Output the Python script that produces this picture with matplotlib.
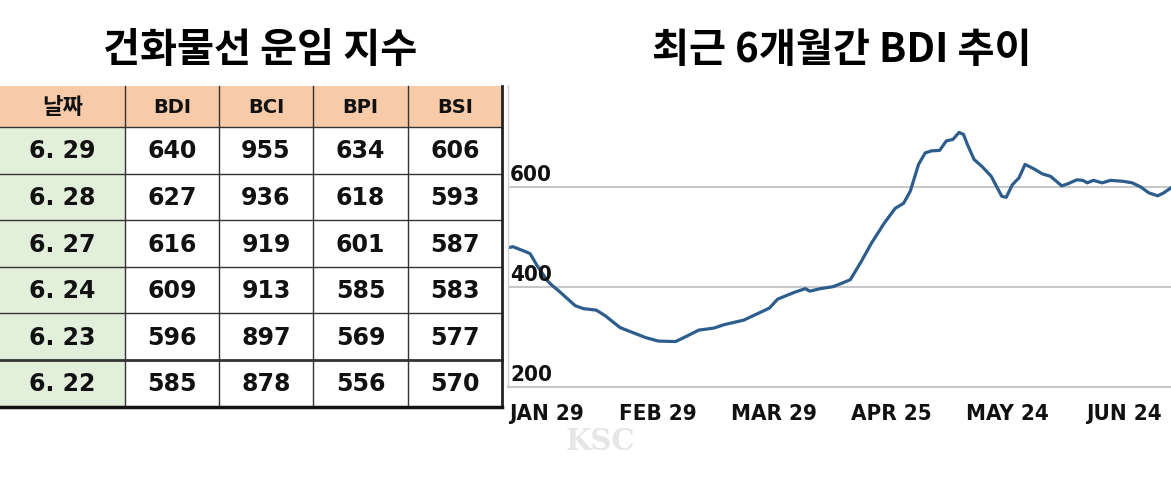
import matplotlib.pyplot as plt
from matplotlib.patches import Rectangle

# table data
headers = ['날짜', 'BDI', 'BCI', 'BPI', 'BSI']
dates = ['6. 29', '6. 28', '6. 27', '6. 24', '6. 23', '6. 22']
bdi = [640, 627, 616, 609, 596, 585]
bci = [955, 936, 919, 913, 897, 878]
bpi = [634, 618, 601, 585, 569, 556]
bsi = [606, 593, 587, 583, 577, 570]

# BDI trend (x = trading days from start)
day = [0, 0.9, 3.2, 4.0, 5.2, 7.1, 7.8, 9.4, 12.1, 13.6, 15.9, 17.5, 20.2,
       22.5, 24.8, 27.1, 30.2, 31.7, 34.4, 37.1, 39.0, 42.5, 44.8, 47.1,
       48.6, 51.7, 53.6, 54.4, 56.3, 58.6, 60.2, 61.7, 63.6, 65.5, 67.8,
       69.8, 71.3, 72.5, 74.0, 75.2, 76.3, 77.8, 79.0, 80.2, 81.3, 82.1,
       82.8, 84.0, 85.5, 87.1, 89.0, 89.8, 90.9, 92.1, 93.2, 94.8, 96.3,
       97.8, 99.8, 100.9, 102.5, 103.6, 104.4, 105.5, 107.1, 108.6, 110.9,
       112.5, 114.0, 115.5, 117.1, 118.2, 119.5]
bdi_trend = [479, 481, 471, 467, 444, 413, 405, 390, 363, 357, 354, 343, 319,
             309, 299, 292, 291, 299, 314, 318, 325, 334, 346, 358,
             376, 390, 397, 392, 397, 401, 408, 415, 450, 488, 528,
             558, 568, 592, 646, 669, 673, 674, 693, 696, 710, 706,
             686, 656, 641, 622, 582, 580, 605, 619, 646, 637, 627,
             622, 603, 607, 615, 614, 609, 614, 609, 614, 612,
             609, 601, 589, 583, 589, 599]
tick_days = [7, 27, 48, 69, 90, 111]
tick_labels = ['JAN 29', 'FEB 29', 'MAR 29', 'APR 25', 'MAY 24', 'JUN 24']
y_labels = [200, 400, 600]

kr = ['Noto Sans CJK KR', 'DejaVu Sans']

fig = plt.figure(figsize=(11.71, 4.79), dpi=100)
bg = fig.add_axes([0, 0, 1, 1])
bg.set_xlim(0, 1171)
bg.set_ylim(479, 0)
bg.axis('off')

# titles
bg.text(260, 50, '건화물선 운임 지수', ha='center', va='center', fontsize=29,
        fontweight='black', family=kr)
bg.text(842, 50, '최근 6개월간 BDI 추이', ha='center', va='center', fontsize=29,
        fontweight='black', family=kr)

# table
col_edges = [0, 125, 219, 313, 408, 502]
head_top, head_bot, row_h = 86, 127, 46.6
for i in range(5):
    x0, x1 = col_edges[i], col_edges[i + 1]
    bg.add_patch(Rectangle((x0, head_top), x1 - x0, head_bot - head_top,
                           facecolor='#f7caa8', edgecolor='none'))
    bg.text((x0 + x1) / 2, (head_top + head_bot) / 2 + 1, headers[i],
            ha='center', va='center', fontsize=16 if i == 0 else 14,
            fontweight='black' if i == 0 else 'bold',
            family=kr if i == 0 else 'DejaVu Sans', color='#111111')

columns = [dates, bdi, bci, bpi, bsi]
for r in range(len(dates)):
    y0 = head_bot + r * row_h
    for i, col in enumerate(columns):
        x0, x1 = col_edges[i], col_edges[i + 1]
        fc = '#e2efda' if i == 0 else 'white'
        bg.add_patch(Rectangle((x0, y0), x1 - x0, row_h, facecolor=fc,
                               edgecolor='none'))
        bg.text((x0 + x1) / 2, y0 + row_h / 2 + 1, str(col[r]),
                ha='center', va='center', fontsize=17, fontweight='bold',
                family='DejaVu Sans', color='#111111')

table_bot = head_bot + len(dates) * row_h
for x in col_edges[1:-1]:
    bg.plot([x, x], [head_top, table_bot], color='#333333', lw=1.0)
for r in range(len(dates)):
    y = head_bot + r * row_h
    lw = 2.0 if r == len(dates) - 1 else 1.0
    bg.plot([0, col_edges[-1]], [y, y], color='#333333', lw=lw)
bg.plot([col_edges[-1], col_edges[-1]], [head_top, table_bot], color='#222222', lw=2.0)
bg.plot([0, col_edges[-1]], [table_bot, table_bot], color='#111111', lw=2.5)

# watermark
bg.text(600, 442, 'KSC', ha='center', va='center', fontsize=21, fontweight='bold',
        color='#e6e6e6', family='DejaVu Serif')

# chart
ax = fig.add_axes([508 / 1171, (479 - 387) / 479, 663 / 1171, 302 / 479])
ax.set_facecolor('none')
ax.plot(day, bdi_trend, color='#2d5d8c', lw=2.3, zorder=2)
ax.set_xlim(0, 119.5)
ax.set_ylim(200, 805)
ax.set_yticks(y_labels)
ax.tick_params(axis='y', length=0, labelleft=False)
ax.yaxis.grid(True, color='#c8c8c8', lw=1.5)
ax.set_axisbelow(True)
for v in y_labels:
    ax.text(0.4, v + 5, str(v), ha='left', va='bottom', fontsize=16,
            fontweight='bold', fontstretch='condensed', family='DejaVu Sans',
            color='#111111', zorder=3)
ax.set_xticks(tick_days, tick_labels)
ax.tick_params(axis='x', length=0, pad=12, labelsize=16)
for lab in ax.get_xticklabels():
    lab.set_fontweight('bold')
    lab.set_fontstretch('condensed')
    lab.set_family('DejaVu Sans')
    lab.set_color('#111111')
for s in ['top', 'right']:
    ax.spines[s].set_visible(False)
ax.spines['left'].set_color('#d4d4d4')
ax.spines['left'].set_linewidth(1.0)
ax.spines['bottom'].set_color('#c8c8c8')
ax.spines['bottom'].set_linewidth(1.5)

fig.savefig('out.png', dpi=100, facecolor='white')
